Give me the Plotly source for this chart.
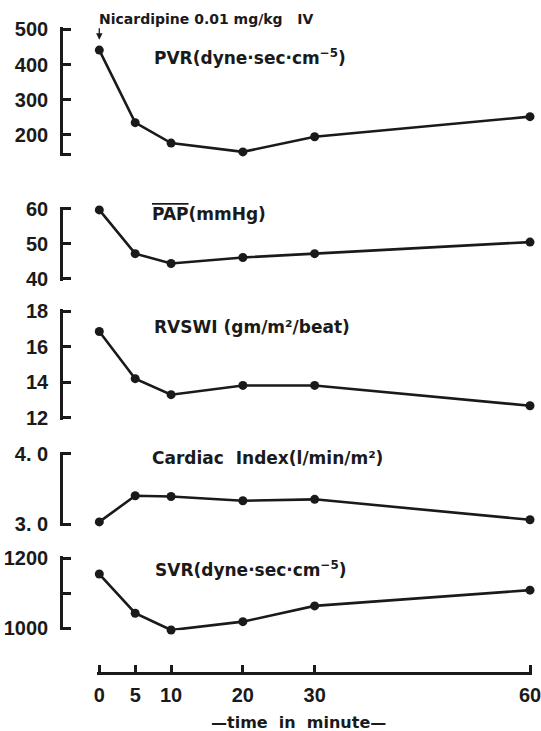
import plotly.graph_objects as go

# Time points (minutes after Nicardipine 0.01 mg/kg IV)
time_min = [0, 5, 10, 20, 30, 60]
time_ticks = [0, 5, 10, 20, 30, 60]

# Haemodynamic variables
pvr = [441, 235, 177, 152, 195, 252]          # dyne·sec·cm^-5
pap = [59.6, 47.1, 44.3, 46.0, 47.1, 50.4]      # mmHg
rvswi = [16.85, 14.2, 13.3, 13.82, 13.82, 12.68]  # gm/m²/beat
cardiac_index = [3.03, 3.40, 3.39, 3.33, 3.35, 3.06]  # l/min/m²
svr = [1155, 1043, 995, 1019, 1064, 1109]       # dyne·sec·cm^-5

# Axis ticks per panel
pvr_ticks = [146, 200, 300, 400, 500]
pvr_ticktext = ["", "200", "300", "400", "500"]
pap_ticks = [40, 50, 60]
pap_ticktext = ["40", "50", "60"]
rvswi_ticks = [12, 14, 16, 18]
rvswi_ticktext = ["12", "14", "16", "18"]
ci_ticks = [3, 4]
ci_ticktext = ["3. 0", "4. 0"]
svr_ticks = [1000, 1100, 1200]
svr_ticktext = ["1000", "", "1200"]

W, H = 541, 731


def px(xp):
    return xp / W


def py(yp):
    return 1 - yp / H


INK = "#1a1a1a"
LBL = "Liberation Sans, Arial, sans-serif"
YLBL_FONT = dict(family=LBL, size=20, color=INK, weight="bold")
XLBL_FONT = dict(family=LBL, size=20, color=INK, weight="bold")
TXT_FONT = dict(family="DejaVu Sans, Verdana, sans-serif", size=17, color=INK, weight="bold")

# Plotly drops inside ticks lying on the very ends of an axis, so each axis is
# stretched by a couple of pixels to keep the end serifs of the brackets.
PAD = 2.0
YAXIS_PX = 61.0
T0_PX, T60_PX = 99.3, 530.0

fig = go.Figure()

panels = [
    ("y", pvr, (146, 500), (154, 29.3), pvr_ticks, pvr_ticktext),
    ("y2", pap, (40, 60), (278.5, 208.5), pap_ticks, pap_ticktext),
    ("y3", rvswi, (12, 18), (417.8, 311.1), rvswi_ticks, rvswi_ticktext),
    ("y4", cardiac_index, (3, 4), (524, 453.5), ci_ticks, ci_ticktext),
    ("y5", svr, (1000, 1200), (628.3, 558.3), svr_ticks, svr_ticktext),
]

layout_axes = {}
for yname, vals, rng, (ybot, ytop), tv, tt in panels:
    fig.add_trace(go.Scatter(
        x=time_min, y=vals, xaxis="x", yaxis=yname,
        mode="lines+markers",
        line=dict(color=INK, width=2.6),
        marker=dict(color=INK, size=9),
        cliponaxis=False, showlegend=False, hoverinfo="skip",
    ))
    per_px = (rng[1] - rng[0]) / (ybot - ytop)
    key = "yaxis" if yname == "y" else "yaxis" + yname[1:]
    layout_axes[key] = dict(
        domain=[py(ybot + PAD), py(ytop - PAD)],
        range=[rng[0] - PAD * per_px, rng[1] + PAD * per_px],
        anchor="free", position=px(YAXIS_PX), side="left",
        showline=True, linecolor=INK, linewidth=2.6,
        ticks="inside", ticklen=8, tickwidth=2.6, tickcolor=INK,
        tickvals=tv, ticktext=tt, tickfont=YLBL_FONT,
        ticklabelstandoff=8, ticklabeloverflow="allow",
        showgrid=False, zeroline=False, automargin=False,
    )

x_per_px = 60 / (T60_PX - T0_PX)
fig.update_layout(
    width=W, height=H,
    margin=dict(l=0, r=0, t=0, b=0),
    paper_bgcolor="white", plot_bgcolor="white",
    template="none",
    xaxis=dict(
        domain=[px(T0_PX - PAD), px(T60_PX + PAD)],
        range=[-PAD * x_per_px, 60 + PAD * x_per_px],
        anchor="free", position=py(673),
        showline=True, linecolor=INK, linewidth=2.6,
        ticks="inside", ticklen=7, tickwidth=2.6, tickcolor=INK,
        tickvals=time_ticks, ticktext=[str(t) for t in time_ticks],
        tickfont=XLBL_FONT, ticklabelstandoff=3, ticklabeloverflow="allow",
        showgrid=False, zeroline=False, automargin=False,
    ),
    **layout_axes,
)

notes = [
    (px(97), py(19), "Nicardipine 0.01 mg/kg\u00a0\u00a0\u00a0IV", 14),
    (px(152), py(57), "PVR(dyne·sec·cm<sup>−5</sup>)", 17),
    (px(150), py(214), "<span style='text-decoration:overline'>PAP</span>(mmHg)", 17),
    (px(152), py(327), "RVSWI (gm/m²/beat)", 17),
    (px(150), py(457.6), "Cardiac\u00a0\u00a0Index(l/min/m²)", 17),
    (px(153), py(569), "SVR(dyne·sec·cm<sup>−5</sup>)", 17),
]
for x, y, text, size in notes:
    fig.add_annotation(
        x=x, y=y, xref="paper", yref="paper", xanchor="left", yanchor="middle",
        text=text, showarrow=False, font=dict(TXT_FONT, size=size),
    )

# Injection marker arrow at t = 0
fig.add_annotation(
    x=0, y=470, xref="x", yref="y", ax=0, ay=-13, axref="pixel", ayref="pixel",
    text="", showarrow=True, arrowhead=2, arrowsize=1, arrowwidth=1.3, arrowcolor=INK,
)

# X-axis title
fig.add_annotation(
    x=px(298), y=py(722), xref="paper", yref="paper", xanchor="center", yanchor="middle",
    text="—time\u00a0\u00a0in\u00a0\u00a0minute—", showarrow=False, font=dict(TXT_FONT, size=16),
)

fig.write_html("out.html")
